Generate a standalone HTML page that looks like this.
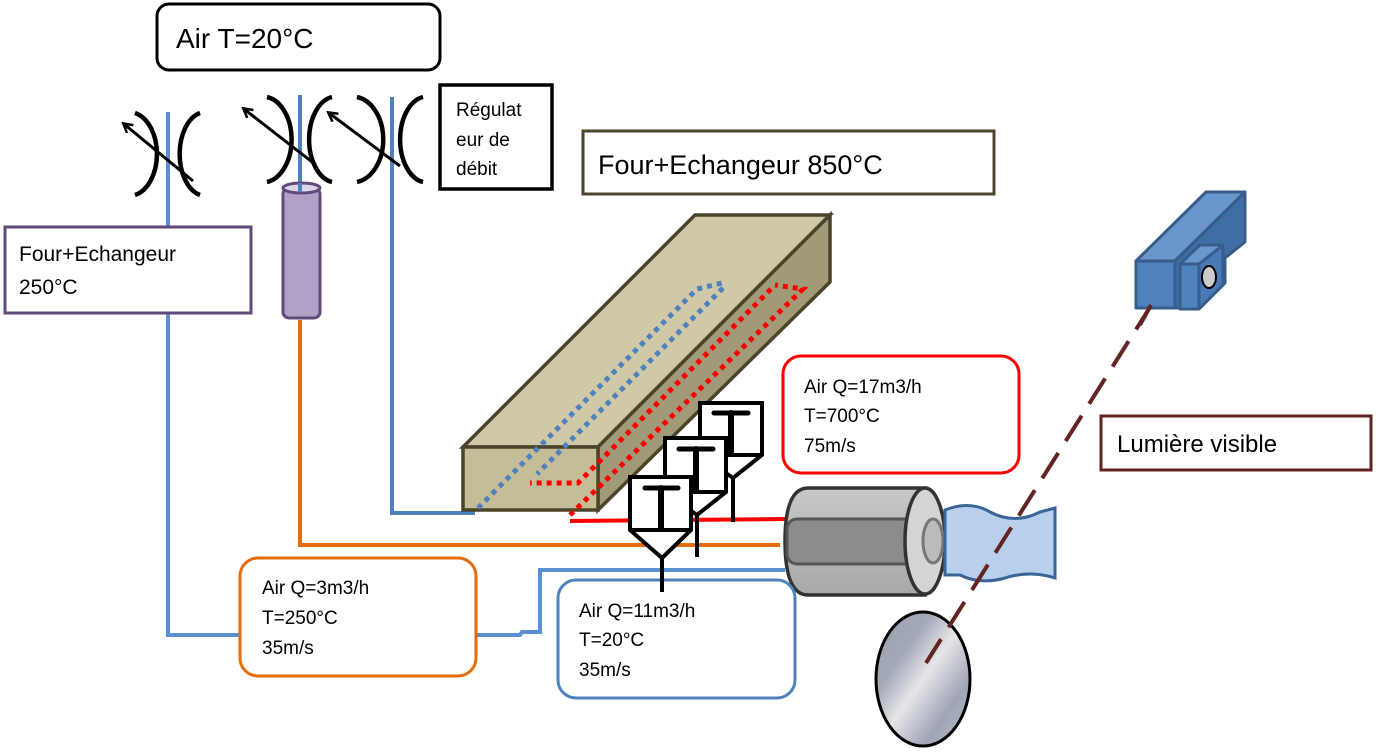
<!DOCTYPE html>
<html><head><meta charset="utf-8"><style>
body{margin:0;background:#fff;}
svg text{font-family:"Liberation Sans",sans-serif;fill:#000;}
</style></head><body>
<svg width="1376" height="749" viewBox="0 0 1376 749" xmlns="http://www.w3.org/2000/svg">
<defs>
<marker id="ah" markerWidth="12" markerHeight="12" refX="9" refY="6" orient="auto" markerUnits="userSpaceOnUse">
<path d="M1,1 L10,6 L1,11" fill="none" stroke="#000" stroke-width="2.5"/></marker>
<linearGradient id="mir" x1="0" y1="0" x2="1" y2="1">
<stop offset="0" stop-color="#9aa0b0"/><stop offset="0.3" stop-color="#a4a9b8"/><stop offset="0.5" stop-color="#e6e6e8"/><stop offset="0.75" stop-color="#a0a5b5"/><stop offset="1" stop-color="#b8bcc8"/></linearGradient>
<linearGradient id="cyl" x1="0" y1="0" x2="0" y2="1"><stop offset="0" stop-color="#c8c8c8"/><stop offset="1" stop-color="#a8a8a8"/></linearGradient>
</defs>

<!-- pipes -->
<g fill="none" stroke-width="4">
<polyline points="168,112 168,635 240,635" stroke="#5a8fd2"/>
<line x1="300" y1="95" x2="300" y2="190" stroke="#4f81bd"/>
<polyline points="300,320 300,545 780,545" stroke="#e46c0a"/>
<polyline points="392,97 392,513 475,513" stroke="#4f81bd"/>
<polyline points="476,635 520,635 522,632 540,632 540,570 785,570" stroke="#5a8fd2"/>
<line x1="570" y1="521" x2="785" y2="519" stroke="#ff0000"/>
</g>

<!-- valves -->
<g fill="none" stroke="#000" stroke-width="4.5">
<path d="M135,113 A28,42 0 0 1 135,195"/><path d="M200,113 A26,42 0 0 0 200,195"/>
<path d="M267,97 A29,43 0 0 1 267,182"/><path d="M332,97 A27,43 0 0 0 332,182"/>
<path d="M357,97 A31,43 0 0 1 357,182"/><path d="M423,97 A27,43 0 0 0 423,182"/>
</g>
<g stroke="#000" stroke-width="3" marker-end="url(#ah)">
<line x1="193" y1="181" x2="124" y2="124"/>
<line x1="316" y1="165" x2="244" y2="109"/>
<line x1="400" y1="166" x2="329" y2="113"/>
</g>

<!-- cylinder purple -->
<rect x="283" y="188" width="37" height="130" rx="6" fill="#b2a1c7" stroke="#604a7b" stroke-width="3"/>
<ellipse cx="301.5" cy="188" rx="18.5" ry="5" fill="#ddd5e8" stroke="#604a7b" stroke-width="3"/>
<line x1="300" y1="183" x2="300" y2="192" stroke="#4f81bd" stroke-width="4"/>

<!-- boxes -->
<rect x="157" y="4" width="283" height="66" rx="12" fill="#fff" stroke="#000" stroke-width="3"/>
<text x="176" y="48" font-size="28">Air T=20°C</text>
<rect x="440" y="85" width="112" height="104" fill="#fff" stroke="#000" stroke-width="3.5"/>
<text x="456" y="116" font-size="19">Régulat</text>
<text x="456" y="146" font-size="19">eur de</text>
<text x="456" y="175" font-size="19">débit</text>
<rect x="5" y="227" width="246" height="86" fill="#fff" stroke="#604a7b" stroke-width="3"/>
<text x="19" y="261" font-size="21">Four+Echangeur</text>
<text x="19" y="294" font-size="21">250°C</text>
<rect x="583" y="131" width="411" height="63" fill="#fff" stroke="#4a452a" stroke-width="3"/>
<text x="598" y="174" font-size="27">Four+Echangeur 850°C</text>
<rect x="1101" y="416" width="270" height="54" fill="#fff" stroke="#632523" stroke-width="3"/>
<text x="1117" y="452" font-size="24">Lumière visible</text>

<!-- oven -->
<polygon points="463,447 695,215 830,215 598,447" fill="#cfc9a8" stroke="#4a452a" stroke-width="3.5"/>
<polygon points="598,447 830,215 830,282 598,510" fill="#a09a78" stroke="#4a452a" stroke-width="3.5"/>
<rect x="463" y="447" width="135" height="63" fill="#c5bd97" stroke="#4a452a" stroke-width="3.5"/>
<g fill="none" stroke-width="5" stroke-dasharray="5,5">
<polyline points="478,508 697,289 722,283" stroke="#4f81bd"/>
<polyline points="723,288 537,474" stroke="#4f81bd"/>
<polyline points="570,515 803,289 775,285" stroke="#ff0000"/>
<polyline points="771,289 578,483 530,483" stroke="#ff0000"/>
</g>

<!-- red box -->
<rect x="783" y="356" width="236" height="117" rx="18" fill="#fff" stroke="#ff0000" stroke-width="3"/>
<text x="804" y="393" font-size="19">Air Q=17m3/h</text>
<text x="804" y="422" font-size="19">T=700°C</text>
<text x="804" y="452" font-size="19">75m/s</text>

<!-- thermocouples -->
<g fill="#fff" stroke="#000" stroke-width="4">
<line x1="733" y1="478" x2="733" y2="522"/>
<polygon points="700,403 762,403 762,455 733,478 700,455"/>
<line x1="700" y1="455" x2="762" y2="455"/>
<line x1="697" y1="515" x2="697" y2="557"/>
<polygon points="665,438 726,438 726,492 697,515 665,492"/>
<line x1="665" y1="492" x2="726" y2="492"/>
<line x1="662" y1="558" x2="662" y2="592"/>
<polygon points="630,477 691,477 691,530 662,558 630,530"/>
<line x1="630" y1="530" x2="691" y2="530"/>
</g>
<g stroke="#000" stroke-linecap="round">
<line x1="714" y1="413" x2="748" y2="413" stroke-width="5"/><line x1="731" y1="413" x2="731" y2="453" stroke-width="6"/>
<line x1="679" y1="449" x2="713" y2="449" stroke-width="5"/><line x1="696" y1="449" x2="696" y2="490" stroke-width="6"/>
<line x1="645" y1="488" x2="678" y2="488" stroke-width="5"/><line x1="661" y1="488" x2="661" y2="528" stroke-width="6"/>
</g>

<!-- gray cylinder -->
<path d="M808,488 L925,488 L925,595 L808,595 Q785,595 785,541 Q785,488 808,488 Z" fill="url(#cyl)" stroke="#333" stroke-width="3.5"/>
<rect x="787" y="519" width="135" height="45" rx="10" fill="#8c8c8c" stroke="#555" stroke-width="3"/>
<ellipse cx="925" cy="541" rx="20" ry="53" fill="#d4d4d4" stroke="#333" stroke-width="3.5"/>
<ellipse cx="933" cy="541" rx="10" ry="22" fill="#bbb" stroke="#777" stroke-width="3"/>
<!-- blue tube -->
<path d="M945,510 Q970,500 990,512 Q1015,525 1040,512 L1055,508 L1055,578 Q1030,570 1005,578 Q980,585 960,575 L945,575 Z" fill="#b9d0ec" stroke="#3b6596" stroke-width="3"/>

<!-- air boxes -->
<rect x="240" y="558" width="236" height="118" rx="18" fill="#fff" stroke="#e46c0a" stroke-width="3"/>
<text x="262" y="594" font-size="19">Air Q=3m3/h</text>
<text x="262" y="624" font-size="19">T=250°C</text>
<text x="262" y="654" font-size="19">35m/s</text>
<rect x="558" y="580" width="237" height="118" rx="18" fill="#fff" stroke="#4f81bd" stroke-width="3"/>
<text x="579" y="617" font-size="19">Air Q=11m3/h</text>
<text x="579" y="646" font-size="19">T=20°C</text>
<text x="579" y="676" font-size="19">35m/s</text>
<line x1="662" y1="575" x2="662" y2="592" stroke="#000" stroke-width="4"/>

<!-- mirror -->
<ellipse cx="923" cy="679" rx="47" ry="67" fill="url(#mir)" stroke="#000" stroke-width="3"/>
<!-- dashed light -->
<line x1="1152" y1="304" x2="926" y2="663" stroke="#632523" stroke-width="4" stroke-dasharray="30,14"/>

<!-- camera -->
<g stroke="#385d8a" stroke-width="3" stroke-linejoin="round">
<polygon points="1136,261 1206,192 1245,192 1175,261" fill="#6a97cb"/>
<polygon points="1175,261 1245,192 1245,242 1225,258 1225,283 1200,308 1175,308" fill="#3f6da5"/>
<rect x="1136" y="261" width="39" height="47" fill="#4f81bd"/>
<polygon points="1180,264 1200,245 1223,245 1203,264" fill="#6a97cb"/>
<rect x="1180" y="264" width="19" height="45" fill="#4f81bd"/>
<polygon points="1199,264 1223,245 1223,285 1199,309" fill="#4a7ab5"/>
</g>
<ellipse cx="1209" cy="277" rx="7" ry="11" fill="#ccc" stroke="#000" stroke-width="2"/>
<line x1="1151" y1="305" x2="1140" y2="325" stroke="#632523" stroke-width="4"/>
</svg>
</body></html>
